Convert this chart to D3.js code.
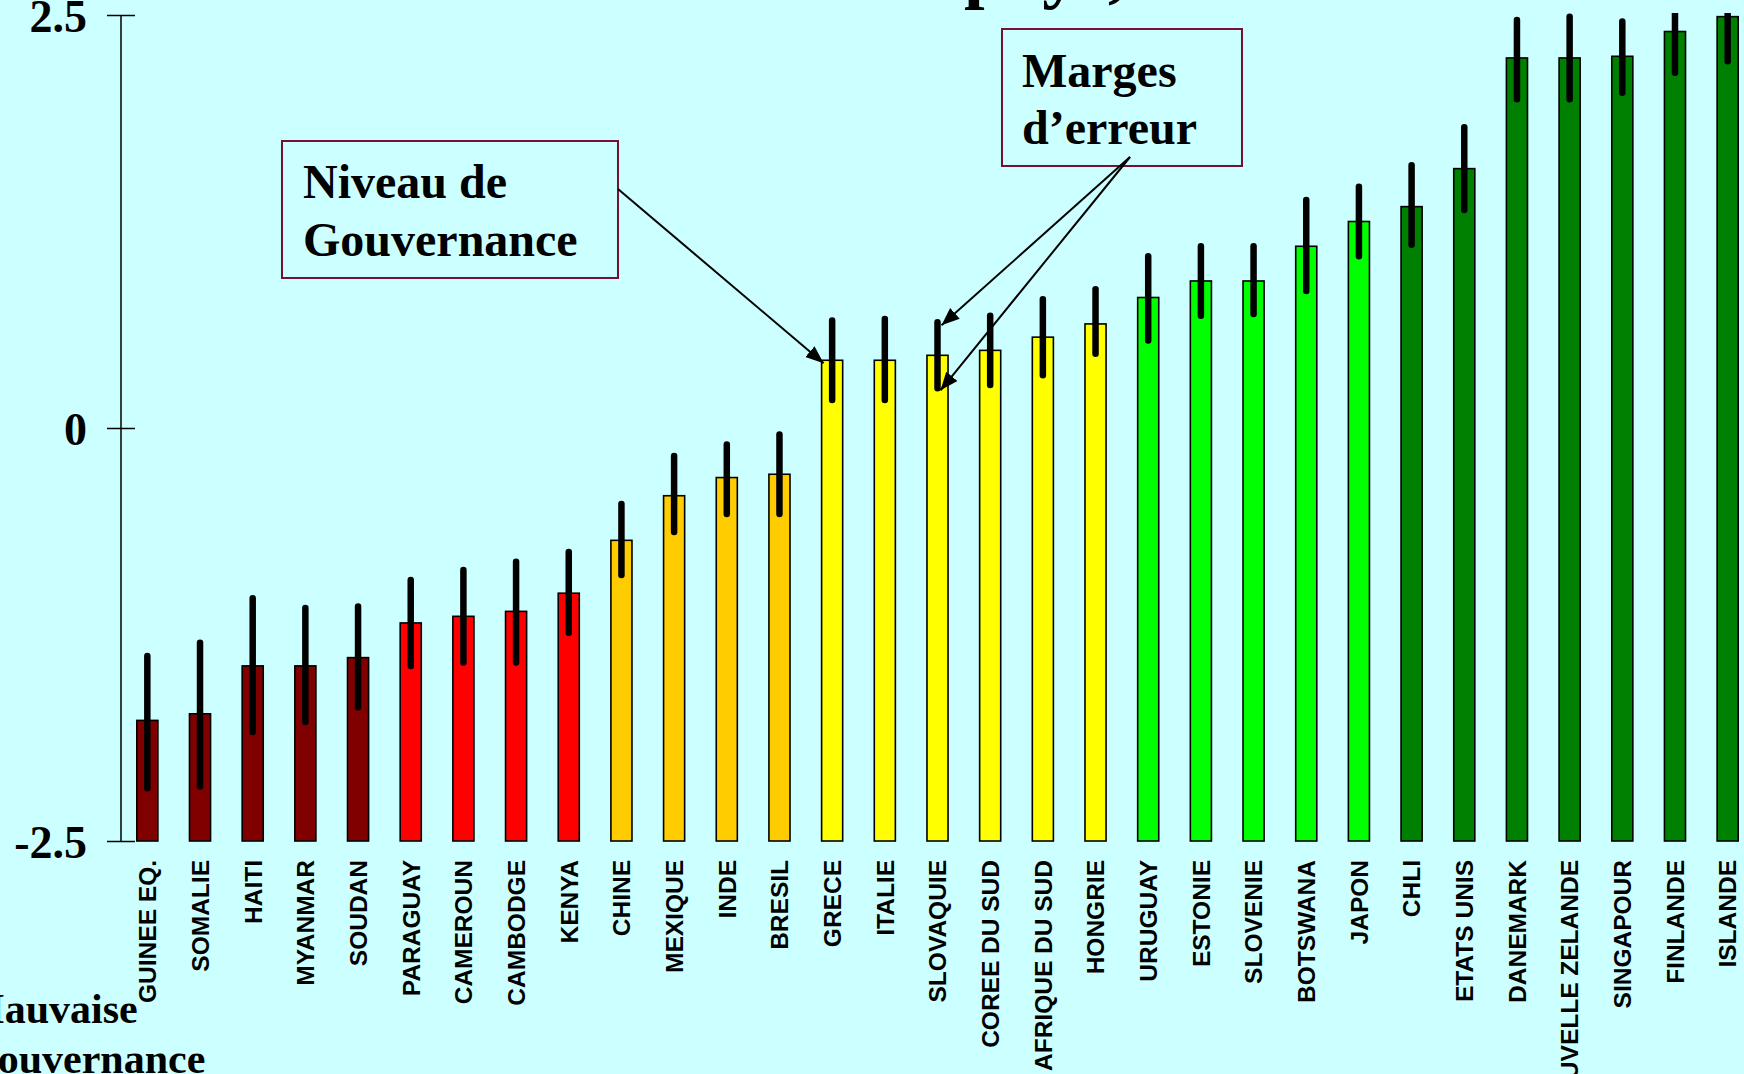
<!DOCTYPE html>
<html>
<head>
<meta charset="utf-8">
<script src="https://cdn.jsdelivr.net/npm/d3@7"></script>
<style>
  html, body { margin: 0; padding: 0; background: #CCFFFF; overflow: hidden; }
  svg { display: block; }
</style>
</head>
<body>
<svg id="chart" width="1744" height="1074"></svg>
<script>
// ---------------- DATA ----------------
const countries = ["GUINEE EQ.", "SOMALIE", "HAITI", "MYANMAR", "SOUDAN", "PARAGUAY", "CAMEROUN", "CAMBODGE", "KENYA",
  "CHINE", "MEXIQUE", "INDE", "BRESIL", "GRECE", "ITALIE", "SLOVAQUIE", "COREE DU SUD", "AFRIQUE DU SUD", "HONGRIE",
  "URUGUAY", "ESTONIE", "SLOVENIE", "BOTSWANA", "JAPON", "CHLI", "ETATS UNIS", "DANEMARK", "NOUVELLE ZELANDE",
  "SINGAPOUR", "FINLANDE", "ISLANDE"];
const values = [-1.77, -1.73, -1.44, -1.44, -1.39, -1.18, -1.14, -1.11, -1.00,
  -0.68, -0.41, -0.30, -0.28, 0.41, 0.41, 0.44, 0.47, 0.55, 0.63,
  0.79, 0.89, 0.89, 1.10, 1.25, 1.34, 1.57, 2.24, 2.24,
  2.25, 2.40, 2.49];
const errLow = [-2.18, -2.17, -1.84, -1.78, -1.69, -1.44, -1.42, -1.42, -1.24,
  -0.89, -0.63, -0.52, -0.52, 0.17, 0.17, 0.24, 0.26, 0.32, 0.45,
  0.53, 0.68, 0.69, 0.83, 1.04, 1.11, 1.32, 1.99, 1.99,
  2.03, 2.15, 2.22];
const errHigh = [-1.38, -1.30, -1.03, -1.09, -1.08, -0.92, -0.86, -0.81, -0.75,
  -0.46, -0.17, -0.10, -0.04, 0.65, 0.66, 0.64, 0.68, 0.78, 0.84,
  1.04, 1.10, 1.10, 1.38, 1.46, 1.59, 1.82, 2.47, 2.49,
  2.46, 2.65, 2.77];
// governance tier of each country (0 = worst ... 5 = best)
const tiers = [0, 0, 0, 0, 0, 1, 1, 1, 1, 2, 2, 2, 2, 3, 3, 3, 3, 3, 3, 4, 4, 4, 4, 4, 5, 5, 5, 5, 5, 5, 5];
const tickValues = [-2.5, 0, 2.5];
const tickLabels = ["-2.5", "0", "2.5"];
const yDomain = [-2.5, 2.5];

const titleTail = "pays,";
const noteLevel = ["Niveau de", "Gouvernance"];
const noteError = ["Marges", "d\u2019erreur"];
const noteBad = ["Mauvaise", "Gouvernance"];

// ---------------- STYLE ----------------
const tierColors = ["#800000", "#FF0000", "#FFCC00", "#FFFF00", "#00FF00", "#008000"];
const serif = "'Liberation Serif', 'Times New Roman', serif";
const sans = "'Liberation Sans', Arial, sans-serif";
const boxColor = "#7A1030";

const svg = d3.select("#chart");
svg.append("rect").attr("width", 1744).attr("height", 1074).attr("fill", "#CCFFFF");

const x = d3.scaleBand().domain(countries).range([121, 1754]).paddingInner(0.6).paddingOuter(0.3);
const y = d3.scaleLinear().domain(yDomain).range([841, 15]);
const color = d3.scaleOrdinal().domain(d3.range(6)).range(tierColors);

const data = countries.map((c, i) => ({ c, v: values[i], lo: errLow[i], hi: errHigh[i], t: tiers[i] }));

// defs
const defs = svg.append("defs");
defs.append("clipPath").attr("id", "plotclip")
  .append("rect").attr("x", 0).attr("y", 13).attr("width", 1744).attr("height", 1000);
defs.append("marker").attr("id", "arrow").attr("viewBox", "0 0 10 10")
  .attr("refX", 10).attr("refY", 5).attr("markerWidth", 9).attr("markerHeight", 9)
  .attr("markerUnits", "strokeWidth").attr("orient", "auto")
  .append("path").attr("d", "M0,1 L10,5 L0,9 Z").attr("fill", "#000");

// title tail (clipped by the top of the page)
svg.append("text").attr("x", 964).attr("y", -6)
  .attr("font-family", serif).attr("font-weight", "bold").attr("font-size", 74)
  .attr("fill", "#000").text(titleTail);

// y axis
const yAxis = d3.axisLeft(y).tickValues(tickValues)
  .tickFormat((d, i) => tickLabels[i]).tickSize(0).tickPadding(0);
const gA = svg.append("g").attr("transform", "translate(121,0)").call(yAxis);
gA.select(".domain").attr("d", `M0,${y(2.5)}V${y(-2.5)}`).attr("stroke", "#000").attr("stroke-width", 1.5);
gA.selectAll(".tick line").attr("x1", -14).attr("x2", 14).attr("stroke", "#000").attr("stroke-width", 1.5);
gA.selectAll(".tick text").attr("x", -34).attr("dy", "0.35em")
  .attr("font-family", serif).attr("font-weight", "bold").attr("font-size", 46).attr("fill", "#000");

// bars
svg.append("g").selectAll("rect").data(data).join("rect")
  .attr("x", d => x(d.c)).attr("width", x.bandwidth())
  .attr("y", d => y(d.v)).attr("height", d => y(yDomain[0]) - y(d.v))
  .attr("fill", d => color(d.t)).attr("stroke", "#000").attr("stroke-width", 1.6);

// error bars
svg.append("g").attr("clip-path", "url(#plotclip)").selectAll("line").data(data).join("line")
  .attr("x1", d => x(d.c) + x.bandwidth() / 2).attr("x2", d => x(d.c) + x.bandwidth() / 2)
  .attr("y1", d => y(d.lo)).attr("y2", d => y(d.hi))
  .attr("stroke", "#000").attr("stroke-width", 6.5).attr("stroke-linecap", "round");

// category labels
svg.append("g").selectAll("text").data(data).join("text")
  .attr("transform", d => `translate(${x(d.c) + x.bandwidth() / 2},860) rotate(-90)`)
  .attr("text-anchor", "end").attr("dy", "0.36em")
  .attr("font-family", sans).attr("font-weight", "bold").attr("font-size", 24.5).attr("fill", "#000")
  .text(d => d.c);

// annotation boxes
function noteBox(x0, y0, w, h, lines, tx, ty, gap) {
  svg.append("rect").attr("x", x0).attr("y", y0).attr("width", w).attr("height", h)
    .attr("fill", "none").attr("stroke", boxColor).attr("stroke-width", 2);
  lines.forEach((t, i) => {
    svg.append("text").attr("x", tx).attr("y", ty + i * gap)
      .attr("font-family", serif).attr("font-weight", "bold").attr("font-size", 48).attr("fill", "#000").text(t);
  });
}
noteBox(282, 141, 336, 137, noteLevel, 303, 198, 58);
noteBox(1002, 29, 240, 137, noteError, 1022, 87, 57);

// arrows
const grece = data[13], slov = data[15];
function arrow(x1, y1, x2, y2) {
  svg.append("line").attr("x1", x1).attr("y1", y1).attr("x2", x2).attr("y2", y2)
    .attr("stroke", "#000").attr("stroke-width", 2).attr("marker-end", "url(#arrow)");
}
arrow(618, 189, x(grece.c) + 2, y(grece.v) + 3);
arrow(1130, 157, x(slov.c) + x.bandwidth() / 2 + 4, y(slov.hi) + 3);
arrow(1130, 157, x(slov.c) + x.bandwidth() / 2 + 3, y(slov.lo) + 2);

// bottom-left label
noteBad.forEach((t, i) => {
  svg.append("text").attr("x", -35).attr("y", 1023 + i * 50)
    .attr("font-family", serif).attr("font-weight", "bold").attr("font-size", 42).attr("fill", "#000").text(t);
});
</script>
</body>
</html>
